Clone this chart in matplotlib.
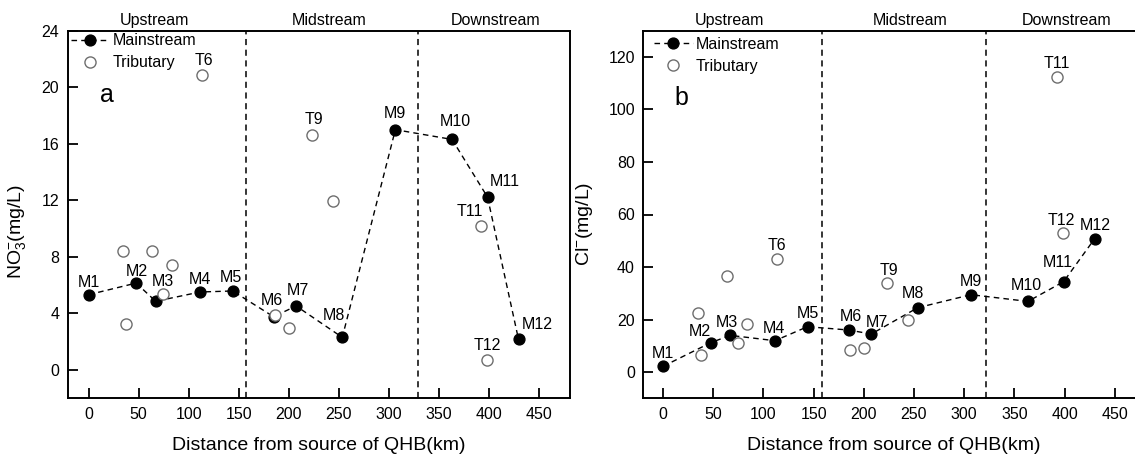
import matplotlib
matplotlib.use('Agg')
import matplotlib.pyplot as plt

plt.rcParams['font.family'] = ['Liberation Sans', 'DejaVu Sans']
plt.rcParams['mathtext.fontset'] = 'custom'
plt.rcParams['mathtext.rm'] = 'Liberation Sans'
plt.rcParams['mathtext.it'] = 'Liberation Sans:italic'

# ---------------- data ----------------
main_labels = ['M1', 'M2', 'M3', 'M4', 'M5', 'M6', 'M7', 'M8', 'M9', 'M10', 'M11', 'M12']
main_dist = [0, 47.5, 67, 111.5, 144, 185, 207.5, 253.7, 306.8, 363.5, 399, 430]
no3_main = [5.33, 6.15, 4.86, 5.52, 5.59, 3.77, 4.53, 2.31, 17.0, 16.31, 12.23, 2.17]
cl_main = [2.16, 11.17, 13.97, 11.94, 17.27, 16.0, 14.48, 24.5, 29.46, 26.9, 34.4, 50.8]

trib_labels = ['', '', '', '', '', 'T6', '', '', 'T9', '', 'T11', 'T12']
trib_dist = [34.5, 37.8, 63.5, 74.5, 83.5, 113.2, 186, 200.5, 223.4, 244.3, 392.7, 398.3]
no3_trib = [8.42, 3.23, 8.39, 5.37, 7.45, 20.84, 3.87, 2.99, 16.64, 11.93, 10.21, 0.68]
cl_trib = [22.5, 6.6, 36.7, 10.9, 18.2, 43.2, 8.25, 9.14, 33.9, 19.7, 112.4, 52.95]

region_names = ['Upstream', 'Midstream', 'Downstream']
x_ticks = [0, 50, 100, 150, 200, 250, 300, 350, 400, 450]
no3_ticks = [0, 4, 8, 12, 16, 20, 24]
cl_ticks = [0, 20, 40, 60, 80, 100, 120]

# ---------------- layout / style ----------------
PX = 0.72  # points per pixel at dpi 100
offs_a = {'M1': (0, 12), 'M2': (1, 12), 'M3': (7.6, 20), 'M4': (0, 12), 'M5': (-1.5, 13),
          'M6': (-2, 16), 'M7': (2, 15), 'M8': (-8.7, 22), 'M9': (0, 16), 'M10': (3.6, 18),
          'M11': (17.4, 15.3), 'M12': (18.9, 15.3), 'T6': (2, 15), 'T9': (1.5, 15),
          'T11': (-11.3, 14), 'T12': (0, 15.3)}
offs_b = {'M1': (0, 12.7), 'M2': (-11.3, 11.3), 'M3': (-3.6, 12.7), 'M4': (-0.7, 12), 'M5': (0, 13),
          'M6': (1.8, 14), 'M7': (5.4, 12), 'M8': (-4.4, 14), 'M9': (0, 12.7), 'M10': (-1.8, 16),
          'M11': (-5.8, 19.7), 'M12': (0.4, 13), 'T6': (0, 12.7), 'T9': (1.5, 12.7),
          'T11': (-0.4, 13.3), 'T12': (-1.1, 12.7)}

fig = plt.figure(figsize=(11.35, 4.55), dpi=100)
axw = 501.8 / 1135
axh = 367.6 / 455
ax_a = fig.add_axes([67.7 / 1135, 56.7 / 455, axw, axh])
ax_b = fig.add_axes([643.3 / 1135, 56.7 / 455, axw, axh])

DASH = (0, (4, 3))
TRIB_EC = '#6e6e6e'
FS = 11.5


def draw(ax, main_y, trib_y, ylim, yticks, ylabel, letter, offs, vlines, region_x, xlim,
         ylab_xy, leg_anchor):
    ax.set_xlim(*xlim)
    ax.set_ylim(*ylim)
    for v in vlines:
        ax.axvline(v, color='k', lw=1.1, ls=DASH, zorder=1)
    ln, = ax.plot(main_dist, main_y, color='k', lw=1.0, ls=DASH, marker='o', ms=7.8,
                  mfc='k', mec='k', zorder=3, label='Mainstream')
    tr, = ax.plot(trib_dist, trib_y, ls='none', marker='o', ms=8, mfc='white', mec=TRIB_EC,
                  mew=1.0, zorder=4, label='Tributary')
    for lab, x, y in zip(main_labels, main_dist, main_y):
        dx, dy = offs[lab]
        ax.annotate(lab, (x, y), xytext=(dx * PX, dy * PX), textcoords='offset points',
                    ha='center', va='center', fontsize=FS, zorder=5)
    for lab, x, y in zip(trib_labels, trib_dist, trib_y):
        if lab:
            dx, dy = offs[lab]
            ax.annotate(lab, (x, y), xytext=(dx * PX, dy * PX), textcoords='offset points',
                        ha='center', va='center', fontsize=FS, zorder=5)
    tr_x = ax.get_xaxis_transform()
    for name, rx in zip(region_names, region_x):
        ax.text(rx, 1.027, name, transform=tr_x, ha='center', va='center', fontsize=FS)
    ax.set_xticks(x_ticks)
    ax.set_yticks(yticks)
    ax.tick_params(direction='in', length=7, width=1.3, labelsize=FS, pad=6,
                   top=False, right=False)
    for s in ax.spines.values():
        s.set_linewidth(1.4)
    ax.set_xlabel('Distance from source of QHB(km)', fontsize=14)
    ax.xaxis.set_label_coords(0.5, -0.106)
    ax.set_ylabel(ylabel, fontsize=14)
    ax.yaxis.set_label_coords(*ylab_xy)
    ax.text(letter[1], letter[2], letter[0], transform=ax.transAxes, fontsize=18,
            ha='center', va='center')
    ax.legend(handles=[ln, tr], loc='upper left', bbox_to_anchor=leg_anchor, frameon=False,
              fontsize=11.5, handlelength=2.4, handletextpad=0.2, labelspacing=0.45,
              borderaxespad=0, borderpad=0.15)


draw(ax_a, no3_main, no3_trib, (-2, 24), no3_ticks, r'NO$_3^{-}$(mg/L)', ('a', 0.078, 0.825),
     offs_a, [157.4, 329], [66, 241, 407], (-21, 481), (-0.08, 0.455), (0.002, 1.0))
draw(ax_b, cl_main, cl_trib, (-10, 130), cl_ticks, r'Cl$^{-}$(mg/L)', ('b', 0.075, 0.816),
     offs_b, [158, 321.5], [66, 246, 402], (-19.6, 480.2), (-0.097, 0.474), (0.017, 0.99))

fig.savefig('out.png', dpi=100)
